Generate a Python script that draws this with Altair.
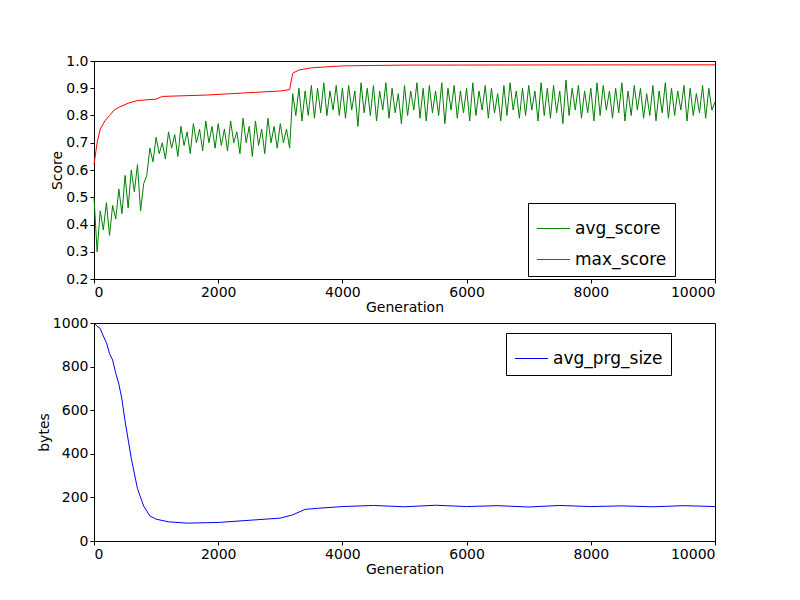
import altair as alt
import pandas as pd

# avg_score sampled every 50 generations (0 .. 9950) plus the end point
avg_score = [
    0.50, 0.30, 0.45, 0.38, 0.48, 0.36, 0.47, 0.42, 0.53, 0.44, 0.58, 0.46, 0.60, 0.52, 0.62, 0.45, 0.55, 0.58, 0.68, 0.63,
    0.72, 0.66, 0.70, 0.64, 0.74, 0.68, 0.73, 0.65, 0.76, 0.69, 0.74, 0.66, 0.77, 0.70, 0.75, 0.67, 0.78, 0.70, 0.76, 0.68,
    0.77, 0.69, 0.75, 0.67, 0.78, 0.70, 0.74, 0.66, 0.79, 0.70, 0.76, 0.65, 0.78, 0.69, 0.75, 0.66, 0.79, 0.70, 0.76, 0.68,
    0.77, 0.70, 0.75, 0.68, 0.88, 0.80, 0.90, 0.78, 0.89, 0.80, 0.91, 0.79, 0.90, 0.81, 0.92, 0.80, 0.89, 0.82, 0.91, 0.80,
    0.90, 0.79, 0.91, 0.82, 0.89, 0.76, 0.92, 0.81, 0.90, 0.80, 0.91, 0.78, 0.89, 0.82, 0.92, 0.79, 0.90, 0.81, 0.88, 0.77,
    0.91, 0.80, 0.89, 0.82, 0.92, 0.79, 0.90, 0.78, 0.91, 0.81, 0.89, 0.80, 0.92, 0.77, 0.90, 0.82, 0.91, 0.79, 0.89, 0.81,
    0.90, 0.78, 0.92, 0.80, 0.89, 0.82, 0.91, 0.79, 0.90, 0.81, 0.88, 0.78, 0.91, 0.80, 0.92, 0.82, 0.89, 0.79, 0.90, 0.80,
    0.91, 0.82, 0.89, 0.78, 0.92, 0.80, 0.90, 0.79, 0.91, 0.81, 0.89, 0.77, 0.93, 0.80, 0.90, 0.82, 0.91, 0.79, 0.89, 0.81,
    0.90, 0.78, 0.92, 0.80, 0.91, 0.82, 0.89, 0.79, 0.90, 0.81, 0.92, 0.78, 0.89, 0.80, 0.91, 0.82, 0.90, 0.79, 0.88, 0.80,
    0.91, 0.78, 0.89, 0.81, 0.92, 0.79, 0.90, 0.80, 0.89, 0.82, 0.91, 0.78, 0.90, 0.80, 0.88, 0.81, 0.91, 0.79, 0.90, 0.82,
    0.85,
]
avg_gen = [i * 50 for i in range(len(avg_score))]

max_gen = [0, 50, 100, 175, 250, 325, 400, 550, 700, 1000, 1100, 1800, 2200, 2600, 3000, 3150, 3200, 3300, 3500, 4000, 5000, 10000]
max_score = [0.62, 0.70, 0.75, 0.78, 0.80, 0.82, 0.83, 0.845, 0.855, 0.86, 0.87, 0.875, 0.88, 0.885, 0.89, 0.895, 0.955, 0.967, 0.975, 0.982, 0.985, 0.986]

size_gen = [0, 50, 100, 150, 200, 250, 300, 350, 400, 450, 500, 600, 700, 800, 900, 1000, 1200, 1500, 2000, 2500, 3000, 3200, 3400, 3600, 4000,
            4500, 5000, 5500, 6000, 6500, 7000, 7500, 8000, 8500, 9000, 9500, 10000]
size_val = [1000, 985, 975, 940, 910, 860, 830, 770, 720, 650, 550, 380, 240, 160, 115, 100, 88, 82, 85, 95, 105, 120, 145, 150, 158,
            163, 157, 164, 158, 162, 156, 163, 158, 161, 157, 162, 158]

top = pd.concat([
    pd.DataFrame({"Generation": avg_gen, "Score": avg_score, "series": "avg_score"}),
    pd.DataFrame({"Generation": max_gen, "Score": max_score, "series": "max_score"}),
])
bottom = pd.DataFrame({"Generation": size_gen, "bytes": size_val, "series": "avg_prg_size"})

xscale = alt.Scale(domain=[0, 10000], nice=False)
xaxis = alt.Axis(title="Generation", values=[0, 2000, 4000, 6000, 8000, 10000], format="d", grid=False)

legend_cfg = dict(orient="none", title=None, symbolType="stroke", symbolSize=1100, symbolStrokeWidth=1.2,
                  strokeColor="black", fillColor="white", padding=8, labelFontSize=17, rowPadding=5)

chart1 = alt.Chart(top).mark_line(strokeWidth=1).encode(
    x=alt.X("Generation:Q", scale=xscale, axis=xaxis),
    y=alt.Y("Score:Q", scale=alt.Scale(domain=[0.2, 1.0], nice=False),
            axis=alt.Axis(values=[0.2, 0.3, 0.4, 0.5, 0.6, 0.7, 0.8, 0.9, 1.0], format=".1f", grid=False)),
    color=alt.Color("series:N", scale=alt.Scale(domain=["avg_score", "max_score"], range=["#008000", "#ff0000"]),
                    legend=alt.Legend(legendX=434, legendY=142, **legend_cfg)),
).properties(width=621, height=218)

chart2 = alt.Chart(bottom).mark_line(strokeWidth=1).encode(
    x=alt.X("Generation:Q", scale=xscale, axis=xaxis),
    y=alt.Y("bytes:Q", scale=alt.Scale(domain=[0, 1000], nice=False),
            axis=alt.Axis(values=[0, 200, 400, 600, 800, 1000], format="d", grid=False)),
    color=alt.Color("series:N", scale=alt.Scale(domain=["avg_prg_size"], range=["#0000ff"]),
                    legend=alt.Legend(legendX=412, legendY=10, **legend_cfg)),
).properties(width=621, height=218)

chart = alt.vconcat(chart1, chart2, spacing=0).resolve_scale(color="independent").properties(
    padding={"left": 28, "top": 45, "right": 10, "bottom": 10}
).configure_view(stroke="black", strokeWidth=1).configure_axis(
    labelFont="DejaVu Sans", titleFont="DejaVu Sans", labelFontSize=14, titleFontSize=14,
    titleFontWeight="normal", labelColor="black", titleColor="black", domainColor="black",
    tickColor="black", tickSize=4, labelPadding=2, titlePadding=1
).configure_legend(labelFont="DejaVu Sans", labelColor="black")

chart.save("out.html", embed_options={"renderer": "svg", "actions": False})
